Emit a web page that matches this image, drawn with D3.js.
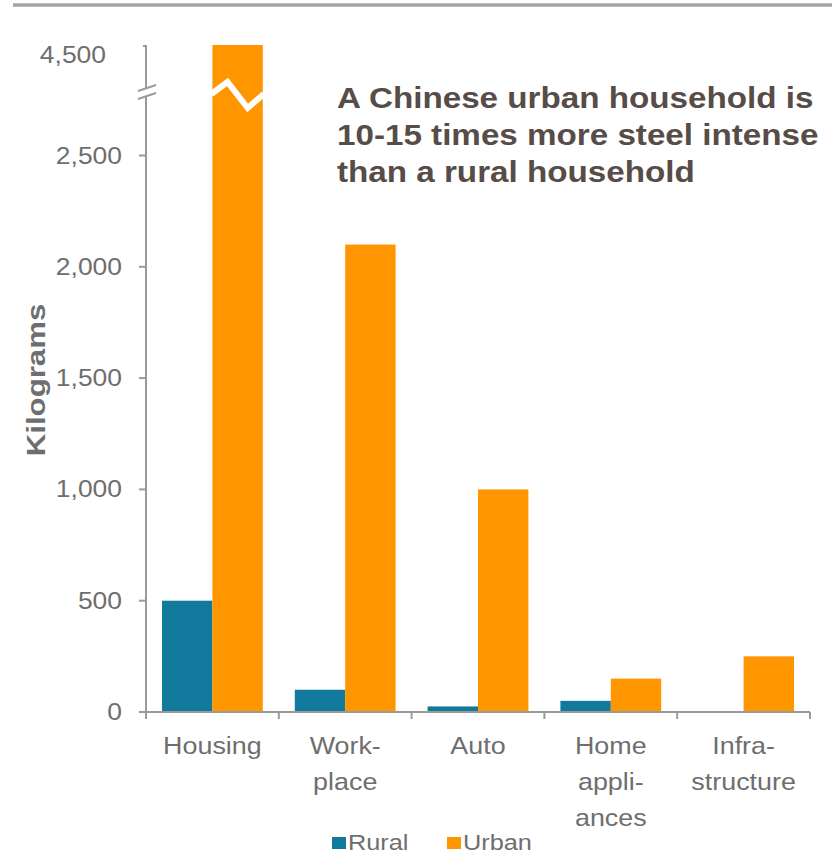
<!DOCTYPE html>
<html><head><meta charset="utf-8">
<script src="https://cdn.jsdelivr.net/npm/d3@7"></script>
<style>body{margin:0;background:#fff}svg{display:block}</style>
</head><body>
<svg id="c" width="838" height="857"></svg>
<script>
const categories = [["Housing"],["Work-","place"],["Auto"],["Home","appli-","ances"],["Infra-","structure"]];
const categoryKeys = ["Housing","Workplace","Auto","Home appliances","Infrastructure"];
const seriesNames = ["Rural","Urban"];
const rural = [500, 100, 25, 50, 3];
const urban = [4700, 2100, 1000, 150, 250];
const yTicks = [0, 500, 1000, 1500, 2000, 2500];
const breakTick = 4500;
const annotation = ["A Chinese urban household is","10-15 times more steel intense","than a rural household"];
const colors = {Rural:"#10799c", Urban:"#ff9600"};

const svg = d3.select("#c");
const font = "'Liberation Sans', Arial, sans-serif";
const textCol = "#6e6e6e", axisCol = "#9a9a9a";

// helper: text placed at (ax, ay) and stretched horizontally by sx
function stext(ax, ay, sx, opts) {
  return svg.append("text")
    .attr("transform", `translate(${ax},${ay}) scale(${sx},1)`)
    .attr("font-family", font).attr("font-size", opts.size)
    .attr("font-weight", opts.weight || "normal")
    .attr("text-anchor", opts.anchor || "start")
    .attr("fill", opts.fill || textCol);
}

// top rule
svg.append("line").attr("x1",13).attr("x2",832).attr("y1",5).attr("y2",5)
  .attr("stroke","#a9a2a0").attr("stroke-width",3.5);

// piecewise (broken) y scale
const y = d3.scaleLinear().domain([0, 2850, 4500, 4700]).range([712, 77.6, 55, 45]);
const x = d3.scaleBand().domain(categoryKeys).range([146, 810]).paddingInner(0).paddingOuter(0);
const xs = d3.scaleBand().domain(seriesNames).range([16, x.bandwidth()-16]);

// bars
const data = categoryKeys.map((k,i)=>({k, Rural:rural[i], Urban:urban[i]}));
const g = svg.append("g");
data.forEach(d=>{
  seriesNames.forEach(s=>{
    g.append("rect").attr("x", x(d.k)+xs(s)).attr("width", xs.bandwidth())
      .attr("y", y(d[s])).attr("height", y(0)-y(d[s])).attr("fill", colors[s]);
  });
});
// zigzag break on housing urban bar
{
  const bx = x("Housing")+xs("Urban"), bw = xs.bandwidth();
  const pts = [[bx-1,94],[bx+bw*0.3,82],[bx+bw*0.7,108],[bx+bw+1,94]];
  g.append("path").attr("d", d3.line()(pts)).attr("fill","none")
    .attr("stroke","#fff").attr("stroke-width",6);
}

// y axis
const ax = svg.append("g").attr("stroke",axisCol).attr("stroke-width",2);
ax.append("line").attr("x1",146).attr("x2",146).attr("y1",y(4700)).attr("y2",y(0)+1);
ax.append("line").attr("x1",143).attr("x2",146).attr("y1",y(4700)+1).attr("y2",y(4700)+1);
yTicks.forEach(t=>{
  ax.append("line").attr("x1",139).attr("x2",146).attr("y1",y(t)).attr("y2",y(t));
});
// break marks
svg.append("rect").attr("x",138).attr("y",88).attr("width",18).attr("height",9).attr("fill","#fff");
[88,96].forEach(yy=>{
  svg.append("line").attr("x1",138).attr("x2",156).attr("y1",yy+3).attr("y2",yy-3)
    .attr("stroke",axisCol).attr("stroke-width",2);
});
// y labels
const fmt = d3.format(",");
yTicks.forEach(t=>{
  stext(122, y(t), 1.15, {size:23, anchor:"end"}).attr("dy","0.35em").text(fmt(t));
});
stext(106, y(breakTick), 1.15, {size:23, anchor:"end"}).attr("dy","0.35em").text(fmt(breakTick));
svg.append("text").attr("transform","translate(45,380) rotate(-90) scale(1.2,1)")
  .attr("text-anchor","middle").attr("font-family",font).attr("font-size",26)
  .attr("font-weight","bold").attr("fill",textCol).text("Kilograms");

// x axis
ax.append("line").attr("x1",146).attr("x2",810).attr("y1",y(0)).attr("y2",y(0));
categoryKeys.forEach(k=>{
  ax.append("line").attr("x1",x(k)).attr("x2",x(k)).attr("y1",y(0)).attr("y2",y(0)+7);
});
ax.append("line").attr("x1",810).attr("x2",810).attr("y1",y(0)).attr("y2",y(0)+7);
categories.forEach((lines,i)=>{
  const t = stext(x(categoryKeys[i])+x.bandwidth()/2, 754, 1.12, {size:24, anchor:"middle"});
  lines.forEach((ln,j)=>{
    t.append("tspan").attr("x", 0).attr("y", j*36).text(ln);
  });
});

// annotation
const an = stext(337, 108, 1.145, {size:29, weight:"bold", fill:"#574c47"});
annotation.forEach((ln,j)=>an.append("tspan").attr("x",0).attr("y",j*37).text(ln));

// legend
const leg = [{s:"Rural",x:332},{s:"Urban",x:447}];
leg.forEach(l=>{
  svg.append("rect").attr("x",l.x).attr("y",837).attr("width",14).attr("height",12).attr("fill",colors[l.s]);
  stext(l.x+16, 850, 1.15, {size:22}).text(l.s);
});
</script>
</body></html>
